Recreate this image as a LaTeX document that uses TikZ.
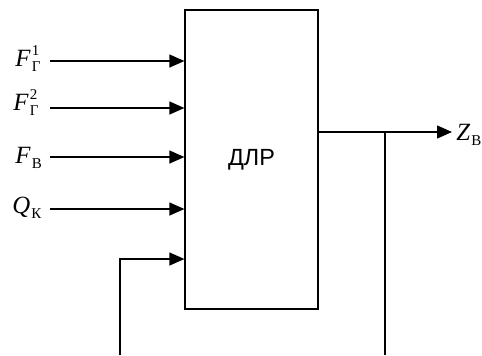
\documentclass[tikz,border=0pt]{standalone}
\usepackage{fontspec}
\setmainfont{Liberation Serif}
\newfontfamily\arialfont{Liberation Sans}
\usetikzlibrary{arrows.meta,positioning}
\newcommand{\subfnt}{\fontsize{7.5}{9}\selectfont}
\newcommand{\sgnl}[3]{\textit{#1}\kern0.5pt\rlap{\raisebox{5.5pt}{\subfnt #2}}\raisebox{-2.5pt}{\subfnt #3}}

\begin{document}
\begin{tikzpicture}[
  x=0.5pt, y=-0.5pt,
  blk/.style={draw, line width=0.6pt, minimum width=66.5pt, minimum height=149.5pt, font=\arialfont\fontsize{11.7}{13}\selectfont},
  sig/.style={anchor=base west, inner sep=0pt, font=\fontsize{12.4}{14}\selectfont},
  wire/.style={line width=0.6pt},
  >={Triangle[length=7.5pt, width=6.5pt]}
]
  \useasboundingbox (0,0) rectangle (482,355);
  \node[blk] (dlr) at (251.5,159.5) {ДЛР};

  % inputs
  \node[sig] (f1) at (15,66) {\sgnl{F}{1}{Г}};
  \node[sig] (f2) at (13,110) {\sgnl{F}{2}{Г}};
  \node[sig] (fb) at (15,163) {\sgnl{F}{}{В}};
  \node[sig] (qk) at (12,213) {\sgnl{Q}{}{К}};
  \coordinate (s1) at (50,61);
  \coordinate (s2) at (50,108);
  \coordinate (s3) at (50,157);
  \coordinate (s4) at (50,209);
  \draw[wire,->] (s1) -- (s1 -| dlr.west);
  \draw[wire,->] (s2) -- (s2 -| dlr.west);
  \draw[wire,->] (s3) -- (s3 -| dlr.west);
  \draw[wire,->] (s4) -- (s4 -| dlr.west);

  % feedback from below
  \coordinate (back) at (120,355);
  \coordinate (s5) at (120,259);
  \draw[wire,->] (back) -- (s5) -- (s5 -| dlr.west);

  % output
  \node[sig] (zb) at (456,140) {\sgnl{Z}{}{В}};
  \coordinate (tap) at (385,132);
  \coordinate (zend) at (452,132);
  \draw[wire,->] (dlr.east |- tap) -- (zend);
  \draw[wire] (tap) -- (tap |- back);
\end{tikzpicture}
\end{document}
